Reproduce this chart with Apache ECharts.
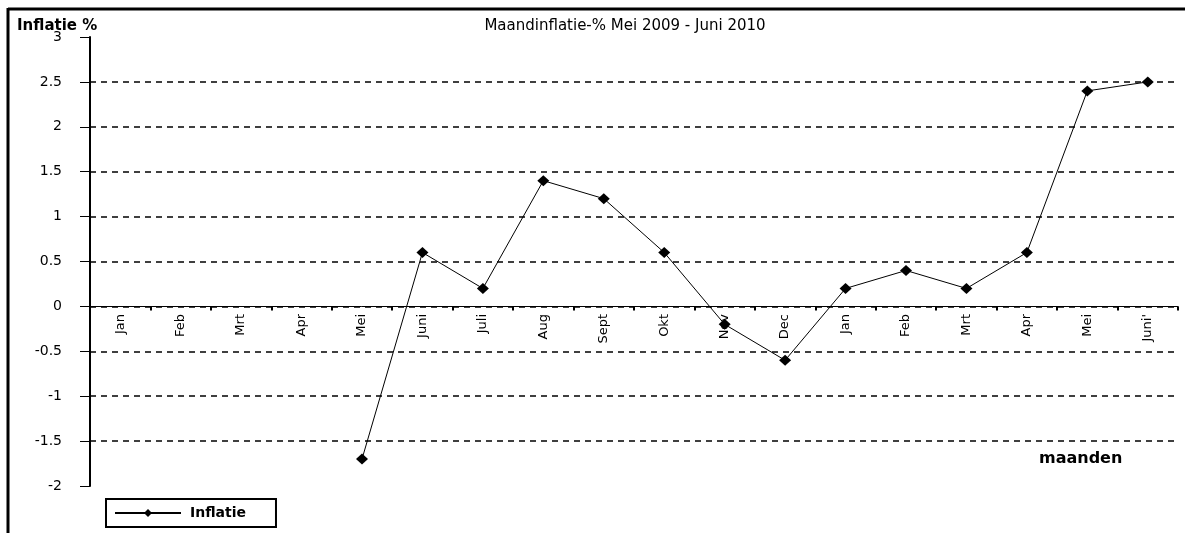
<!DOCTYPE html>
<html>
<head>
<meta charset="utf-8">
<script src="https://cdn.jsdelivr.net/npm/echarts@6/dist/echarts.min.js"></script>
<style>
  html, body { margin: 0; padding: 0; background: #fff; }
  #chart { width: 1185px; height: 533px; }
</style>
</head>
<body>
<div id="chart"></div>
<script>
// maanden (mei 2009 - juni 2010, met lege eerste maanden)
var months = ["Jan", "Feb", "Mrt", "Apr", "Mei", "Juni", "Juli", "Aug", "Sept", "Okt", "Nov", "Dec",
  "Jan", "Feb", "Mrt", "Apr", "Mei", "Juni'"];
// maandinflatie in %
var inflatie = [null, null, null, null, -1.7, 0.6, 0.2, 1.4, 1.2, 0.6, -0.2, -0.6,
  0.2, 0.4, 0.2, 0.6, 2.4, 2.5];

var font = "DejaVu Sans";
var chart = echarts.init(document.getElementById("chart"));

chart.setOption({
  animation: false,
  backgroundColor: "#fff",
  textStyle: { fontFamily: font, color: "#000" },
  grid: { left: 90, right: 7, top: 37, bottom: 47, containLabel: false },
  title: [
    {
      text: "Maandinflatie-% Mei 2009 - Juni 2010",
      left: 620, top: 14, textAlign: "center",
      textStyle: { fontSize: 15, fontWeight: "normal", fontFamily: font, color: "#000" }
    },
    {
      text: "Inflatie %",
      left: 12, top: 14,
      textStyle: { fontSize: 15, fontWeight: "bold", fontFamily: font, color: "#000" }
    },
    {
      text: "maanden",
      left: 1034, top: 446,
      textStyle: { fontSize: 16, fontWeight: "bold", fontFamily: font, color: "#000" }
    }
  ],
  legend: {
    left: 106, top: 499,
    orient: "horizontal",
    itemWidth: 66, itemHeight: 10,
    itemGap: 0,
    padding: [7, 30, 7, 8],
    borderColor: "#000", borderWidth: 2,
    backgroundColor: "#fff",
    textStyle: { fontSize: 14, fontWeight: "bold", fontFamily: font, color: "#000", padding: [0, 0, 0, 4] },
    data: ["Inflatie"]
  },
  xAxis: {
    type: "category",
    data: months,
    boundaryGap: true,
    axisLine: { onZero: true, lineStyle: { color: "#000", width: 1 } },
    axisTick: { show: true, length: 4, lineStyle: { color: "#000", width: 2 } },
    // labels hangen onder de nul-lijn
    axisLabel: { rotate: 90, margin: -172, fontSize: 13, color: "#000", interval: 0 },
    splitLine: { show: false }
  },
  yAxis: {
    type: "value",
    min: -2, max: 3, interval: 0.5,
    axisLine: { show: true, lineStyle: { color: "#000", width: 2 } },
    axisTick: { show: true, length: 10, lineStyle: { color: "#000", width: 1 } },
    axisLabel: { fontSize: 14, color: "#000", margin: 28 },
    splitLine: {
      show: true, showMinLine: false, showMaxLine: false,
      lineStyle: { color: "#000", width: 1.5, type: [6, 5] }
    }
  },
  series: [
    {
      name: "Inflatie",
      type: "line",
      data: inflatie,
      connectNulls: false,
      symbol: "diamond",
      symbolSize: [12, 11],
      itemStyle: { color: "#000" },
      lineStyle: { color: "#000", width: 1 }
    }
  ],
  graphic: [
    { type: "line", shape: { x1: 8, y1: 9, x2: 1185, y2: 9 }, style: { stroke: "#000", lineWidth: 3 } },
    { type: "line", shape: { x1: 8, y1: 8, x2: 8, y2: 533 }, style: { stroke: "#000", lineWidth: 3 } }
  ]
});
</script>
</body>
</html>
